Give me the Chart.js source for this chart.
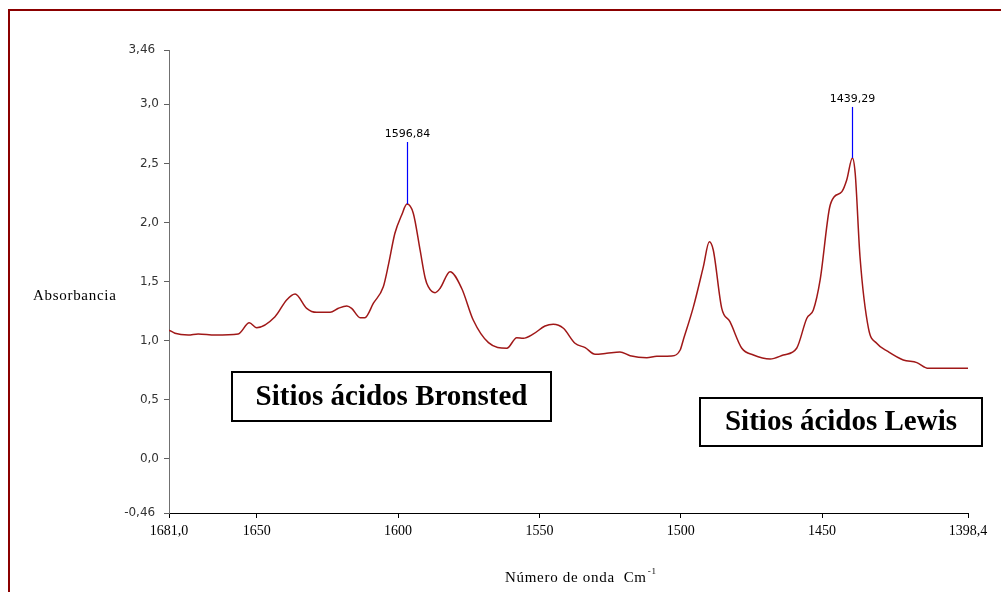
<!DOCTYPE html>
<html>
<head>
<meta charset="utf-8">
<script src="https://cdn.jsdelivr.net/npm/chart.js@4/dist/chart.umd.min.js"></script>
<style>
  html, body { margin: 0; padding: 0; background: #ffffff; }
  canvas { display: block; }
</style>
</head>
<body>
<canvas id="ir" width="1001" height="592"></canvas>
<script>
// IR spectrum of adsorbed pyridine: wavenumber (cm-1) vs absorbance
const wavenumbers = [
  1681.0, 1678.9, 1674.2, 1670.7, 1664.7, 1656.5, 1652.6, 1650.0, 1643.5, 1639.4,
  1636.4, 1632.3, 1628.8, 1624.0, 1621.1, 1618.1, 1616.4, 1613.4, 1611.7, 1608.7,
  1605.2, 1603.4, 1601.1, 1598.7, 1596.84, 1594.6, 1592.2, 1590.4, 1589.3, 1586.9,
  1585.1, 1581.6, 1577.5, 1573.4, 1568.0, 1561.5, 1558.0, 1555.7, 1552.1, 1548.0,
  1545.1, 1541.5, 1537.4, 1533.8, 1530.3, 1526.2, 1521.5, 1517.9, 1512.0, 1508.5,
  1503.2, 1500.2, 1499.1, 1495.5, 1492.0, 1489.9, 1488.5, 1485.5, 1482.6, 1478.4,
  1474.3, 1468.4, 1463.7, 1459.0, 1455.4, 1453.1, 1450.7, 1447.4, 1445.7, 1443.0,
  1441.3, 1439.29, 1438.3, 1436.6, 1433.6, 1430.7, 1426.6, 1421.3, 1416.5, 1412.4,
  1398.4
];
const absorbance = [
  1.089, 1.062, 1.047, 1.056, 1.047, 1.056, 1.151, 1.109, 1.202, 1.344,
  1.394, 1.273, 1.239, 1.239, 1.273, 1.293, 1.273, 1.194, 1.194, 1.316,
  1.456, 1.640, 1.908, 2.063, 2.156, 2.078, 1.767, 1.530, 1.456, 1.405,
  1.443, 1.583, 1.443, 1.174, 0.982, 0.935, 1.024, 1.019, 1.056, 1.123,
  1.138, 1.104, 0.977, 0.940, 0.884, 0.892, 0.903, 0.872, 0.855, 0.867,
  0.869, 0.920, 1.005, 1.287, 1.626, 1.837, 1.767, 1.273, 1.160, 0.935,
  0.878, 0.844, 0.878, 0.935, 1.189, 1.259, 1.513, 2.120, 2.218, 2.261,
  2.360, 2.546, 2.416, 1.710, 1.104, 0.977, 0.906, 0.836, 0.813, 0.765,
  0.765
];

// Axis ticks and their printed labels
const xTickValues = [1681.0, 1650, 1600, 1550, 1500, 1450, 1398.4];
const xTickLabels = ['1681,0', '1650', '1600', '1550', '1500', '1450', '1398,4'];
const yTickValues = [-0.46, 0, 0.5, 1.0, 1.5, 2.0, 2.5, 3.0, 3.46];
const yTickLabels = ['-0,46 ', '0,0', '0,5', '1,0', '1,5', '2,0', '2,5', '3,0', '3,46 '];

// Marked peaks
const peakWavenumbers = [1596.84, 1439.29];
const peakAbsorbance = [2.156, 2.546];
const peakLabels = ['1596,84', '1439,29'];

// Boxed region notes
const noteTexts = ['Sitios ácidos Bronsted', 'Sitios ácidos Lewis'];

const frameAndNotes = {
  id: 'frameAndNotes',
  beforeDraw(chart) {
    const ctx = chart.ctx;
    ctx.save();
    ctx.fillStyle = '#ffffff';
    ctx.fillRect(0, 0, chart.width, chart.height);
    ctx.strokeStyle = '#8b0000';
    ctx.lineWidth = 2;
    ctx.strokeRect(9, 10, chart.width + 20, chart.height + 20);
    ctx.restore();
  },
  afterDraw(chart, args, opts) {
    const ctx = chart.ctx;
    const xs = chart.scales.x, ys = chart.scales.y;
    ctx.save();

    // peak leaders and labels
    ctx.strokeStyle = '#0000ff';
    ctx.lineWidth = 1.2;
    ctx.fillStyle = '#000000';
    ctx.font = '11px "DejaVu Sans", sans-serif';
    ctx.textAlign = 'center';
    ctx.textBaseline = 'bottom';
    peakWavenumbers.forEach((w, i) => {
      const px = Math.round(xs.getPixelForValue(w)) + 0.5;
      const py = ys.getPixelForValue(peakAbsorbance[i]);
      const top = py - opts.leaderLength[i];
      ctx.beginPath();
      ctx.moveTo(px, py);
      ctx.lineTo(px, top);
      ctx.stroke();
      ctx.fillText(peakLabels[i], px, top - 2);
    });

    // axis titles
    ctx.font = '15px "Liberation Serif", serif';
    ctx.letterSpacing = '0.7px';
    ctx.textAlign = 'left';
    ctx.textBaseline = 'middle';
    ctx.fillText('Absorbancia', 33, 296);
    const t1 = 'Número de onda  Cm';
    const tx = 505, ty = 578;
    ctx.fillText(t1, tx, ty);
    const w1 = ctx.measureText(t1).width;
    ctx.font = '9px "Liberation Serif", serif';
    ctx.fillText('-1', tx + w1 + 1, ty - 6);
    ctx.letterSpacing = '0px';

    // boxed notes
    ctx.lineWidth = 2;
    ctx.strokeStyle = '#000000';
    ctx.font = 'bold 29px "Liberation Serif", serif';
    ctx.textAlign = 'center';
    ctx.textBaseline = 'middle';
    opts.boxes.forEach((b, i) => {
      ctx.strokeRect(b[0], b[1], b[2], b[3]);
      ctx.fillText(noteTexts[i], b[0] + b[2] / 2, b[1] + b[3] / 2 + 1);
    });
    ctx.restore();
  }
};

new Chart(document.getElementById('ir'), {
  type: 'line',
  data: {
    datasets: [{
      data: wavenumbers.map((w, i) => ({ x: w, y: absorbance[i] })),
      borderColor: '#a01818',
      borderWidth: 1.5,
      pointRadius: 0,
      cubicInterpolationMode: 'monotone',
      fill: false
    }]
  },
  options: {
    responsive: false,
    animation: false,
    devicePixelRatio: 1,
    layout: { padding: { left: 0, top: 50, right: 33, bottom: 0 } },
    plugins: {
      legend: { display: false },
      tooltip: { enabled: false },
      frameAndNotes: {
        leaderLength: [62, 51],
        boxes: [[232, 372, 319, 49], [700, 398, 282, 48]]
      }
    },
    scales: {
      x: {
        type: 'linear',
        reverse: true,
        min: 1398.4,
        max: 1681.0,
        afterBuildTicks(scale) { scale.ticks = xTickValues.map(v => ({ value: v })); },
        afterFit(scale) { scale.height = 79; },
        ticks: {
          autoSkip: false,
          maxRotation: 0,
          padding: 5,
          color: '#000000',
          font: { family: '"Liberation Serif", serif', size: 14 },
          callback: (v, i) => xTickLabels[i]
        },
        grid: { drawOnChartArea: false, drawTicks: true, tickLength: 5, tickColor: '#000000' },
        border: { display: true, color: '#000000', width: 1 }
      },
      y: {
        type: 'linear',
        min: -0.46,
        max: 3.46,
        afterBuildTicks(scale) { scale.ticks = yTickValues.map(v => ({ value: v })); },
        afterFit(scale) { scale.width = 169; },
        ticks: {
          autoSkip: false,
          padding: 5,
          color: '#333333',
          font: { family: '"DejaVu Sans", sans-serif', size: 12 },
          callback: (v, i) => yTickLabels[i]
        },
        grid: { drawOnChartArea: false, drawTicks: true, tickLength: 5, tickColor: '#606060' },
        border: { display: true, color: '#707070', width: 1 }
      }
    }
  },
  plugins: [frameAndNotes]
});
</script>
</body>
</html>
